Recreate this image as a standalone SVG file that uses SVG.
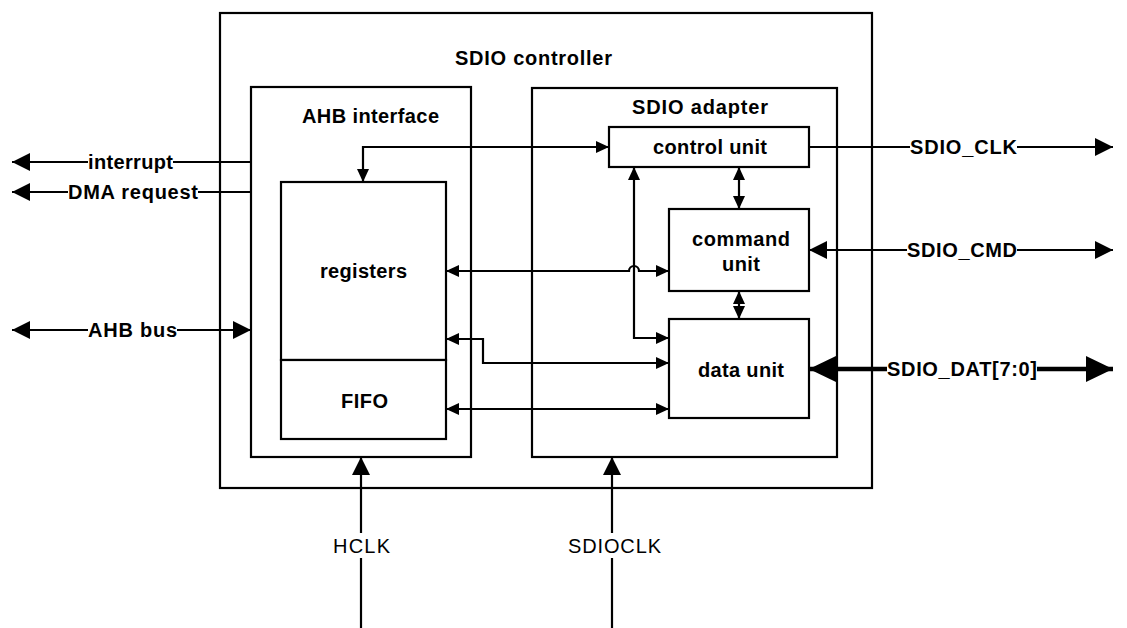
<svg xmlns="http://www.w3.org/2000/svg" width="1127" height="628" viewBox="0 0 1127 628">
<style>
.box{fill:#fff;stroke:#000;stroke-width:2.2}
.ln{fill:none;stroke:#000;stroke-width:2.2}
.thick{fill:none;stroke:#000;stroke-width:4.5}
.t{font-family:"Liberation Sans",Arial,sans-serif;font-weight:bold;font-size:20px;fill:#000}
.r{font-family:"Liberation Sans",Arial,sans-serif;font-size:20px;fill:#000}
</style>
<defs>
<marker id="big" markerUnits="userSpaceOnUse" markerWidth="18" markerHeight="18" refX="18" refY="9" orient="auto-start-reverse" viewBox="0 0 18 18"><path d="M0,0 L18,9 L0,18 z" fill="#000"/></marker>
<marker id="sm" markerUnits="userSpaceOnUse" markerWidth="13" markerHeight="12" refX="13" refY="6" orient="auto-start-reverse" viewBox="0 0 13 12"><path d="M0,0 L13,6 L0,12 z" fill="#000"/></marker>
<marker id="dat" markerUnits="userSpaceOnUse" markerWidth="27" markerHeight="26" refX="27" refY="13" orient="auto-start-reverse" viewBox="0 0 27 26"><path d="M0,0 L27,13 L0,26 z" fill="#000"/></marker>
</defs>

<g id="sdio-controller">
<rect class="box" x="220" y="13" width="652" height="475"/>
<text class="t" x="455" y="65" textLength="157" lengthAdjust="spacing">SDIO controller</text>
</g>
<g id="ahb-interface">
<rect class="box" x="251" y="87" width="220" height="370"/>
<text class="t" x="302" y="123" textLength="137" lengthAdjust="spacing">AHB interface</text>
</g>
<g id="sdio-adapter">
<rect class="box" x="532" y="88" width="305" height="369"/>
<text class="t" x="632" y="114" textLength="136" lengthAdjust="spacing">SDIO adapter</text>
</g>
<g id="registers">
<rect class="box" x="281" y="182" width="165" height="178"/>
<text class="t" x="320" y="278" textLength="87" lengthAdjust="spacing">registers</text>
</g>
<g id="fifo">
<rect class="box" x="281" y="360" width="165" height="79"/>
<text class="t" x="341" y="408" textLength="47" lengthAdjust="spacing">FIFO</text>
</g>
<g id="control-unit">
<rect class="box" x="609" y="127" width="200" height="40"/>
<text class="t" x="653" y="154" textLength="114" lengthAdjust="spacing">control unit</text>
</g>
<g id="command-unit">
<rect class="box" x="669" y="209" width="140" height="82"/>
<text class="t" x="692" y="246" textLength="98" lengthAdjust="spacing">command</text>
<text class="t" x="722" y="271" textLength="38" lengthAdjust="spacing">unit</text>
</g>
<g id="data-unit">
<rect class="box" x="669" y="319" width="140" height="99"/>
<text class="t" x="698" y="377" textLength="86" lengthAdjust="spacing">data unit</text>
</g>

<g id="connectors">
<path class="ln" d="M88,162 L12,162" marker-end="url(#big)"/>
<path class="ln" d="M173,162 L251,162"/>
<text class="t" x="88" y="169" textLength="85" lengthAdjust="spacing">interrupt</text>
<path class="ln" d="M68,192 L12,192" marker-end="url(#big)"/>
<path class="ln" d="M198,192 L251,192"/>
<text class="t" x="68" y="199" textLength="130" lengthAdjust="spacing">DMA request</text>
<path class="ln" d="M88,330 L12,330" marker-end="url(#big)"/>
<path class="ln" d="M177,330 L251,330" marker-end="url(#big)"/>
<text class="t" x="88" y="337" textLength="89" lengthAdjust="spacing">AHB bus</text>

<path class="ln" d="M363,182 L363,147 L609,147" marker-start="url(#sm)" marker-end="url(#sm)"/>
<path class="ln" d="M446,271 L629,271 A5,5 0 0 1 639,271 L669,271" marker-start="url(#sm)" marker-end="url(#sm)"/>
<path class="ln" d="M634,167 L634,338 L669,338" marker-start="url(#sm)" marker-end="url(#sm)"/>
<path class="ln" d="M446,339 L483,339 L483,363 L669,363" marker-start="url(#sm)" marker-end="url(#sm)"/>
<path class="ln" d="M446,409 L669,409" marker-start="url(#sm)" marker-end="url(#sm)"/>
<path class="ln" d="M739,167 L739,209" marker-start="url(#sm)" marker-end="url(#sm)"/>
<path class="ln" d="M739,291 L739,319" marker-start="url(#sm)" marker-end="url(#sm)"/>

<path class="ln" d="M809,147 L910,147"/>
<path class="ln" d="M1017,147 L1113,147" marker-end="url(#big)"/>
<text class="t" x="910" y="154" textLength="107" lengthAdjust="spacing">SDIO_CLK</text>
<path class="ln" d="M907,250 L809,250" marker-end="url(#big)"/>
<path class="ln" d="M1017,250 L1113,250" marker-end="url(#big)"/>
<text class="t" x="907" y="257" textLength="110" lengthAdjust="spacing">SDIO_CMD</text>
<path class="thick" d="M887,369 L809,369" marker-end="url(#dat)"/>
<path class="thick" d="M1037,369 L1113,369" marker-end="url(#dat)"/>
<text class="t" x="887" y="376" textLength="150" lengthAdjust="spacing">SDIO_DAT[7:0]</text>

<path class="ln" d="M361,533 L361,457" marker-end="url(#big)"/>
<path class="ln" d="M361,558 L361,628"/>
<text class="r" x="333" y="553" textLength="57" lengthAdjust="spacing">HCLK</text>
<path class="ln" d="M612,533 L612,457" marker-end="url(#big)"/>
<path class="ln" d="M612,558 L612,628"/>
<text class="r" x="568" y="553" textLength="93" lengthAdjust="spacing">SDIOCLK</text>
</g>
</svg>
